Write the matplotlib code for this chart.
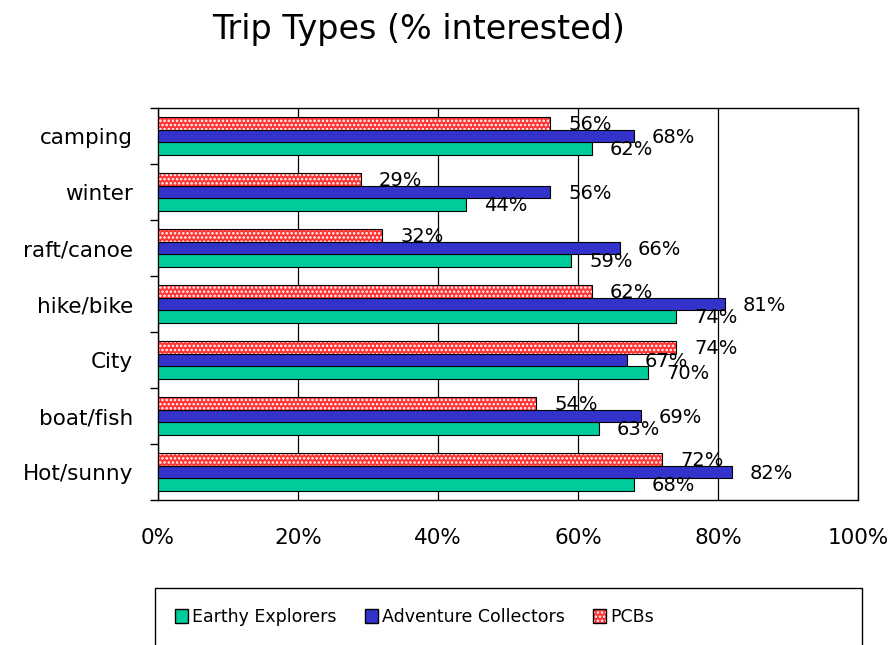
import matplotlib.pyplot as plt
import numpy as np
from matplotlib.patches import Patch, Rectangle
from matplotlib.legend_handler import HandlerTuple

categories = ["Hot/sunny", "boat/fish", "City", "hike/bike", "raft/canoe", "winter", "camping"]
earthy = [68, 63, 70, 74, 59, 44, 62]
adventure = [82, 69, 67, 81, 66, 56, 68]
pcbs = [72, 54, 74, 62, 32, 29, 56]

green = "#00CC99"
blue = "#3333CC"
red = "#FF3333"

plt.rcParams["font.family"] = "DejaVu Sans"
plt.rcParams["hatch.linewidth"] = 1.2

fig = plt.figure(figsize=(8.92, 6.45), dpi=100)
ax = fig.add_axes([158/892, 1-500/645, 700/892, 392/645])

y = np.arange(len(categories))
h = 0.223

ax.barh(y - h, earthy, h, color=green, edgecolor="black", linewidth=0.8, zorder=3)
ax.barh(y, adventure, h, color=blue, edgecolor="black", linewidth=0.8, zorder=3)
# red bars with a white dot pattern, outline drawn on top
ax.barh(y + h, pcbs, h, color=red, edgecolor="white", hatch="....", linewidth=0, zorder=3)
ax.barh(y + h, pcbs, h, color="none", edgecolor="black", linewidth=0.8, zorder=4)

for vals, off in ((earthy, -h), (adventure, 0), (pcbs, h)):
    for yi, v in zip(y, vals):
        ax.annotate(f"{v}%", (v, yi + off), xytext=(13, -1), textcoords="offset points",
                    ha="left", va="center", fontsize=14)

ax.set_xlim(0, 100)
ax.set_ylim(-0.5, len(categories) - 0.5)
ax.set_xticks(np.arange(0, 101, 20))
ax.set_xticklabels([f"{t}%" for t in range(0, 101, 20)], fontsize=15.5)
ax.tick_params(axis="x", length=0, pad=20)
ax.set_yticks(y)
ax.set_yticklabels(categories, fontsize=15.5)
ax.set_yticks(np.arange(-0.5, len(categories), 1), minor=True)
ax.tick_params(axis="y", which="major", length=0, pad=18)
ax.tick_params(axis="y", which="minor", length=6, width=1)
ax.xaxis.grid(True, color="black", linewidth=0.9, zorder=1)
for s in ax.spines.values():
    s.set_linewidth(1)

fig.text(0.469, 1-39/645, "Trip Types (% interested)", ha="center", va="baseline", fontsize=24)

h_e = Patch(facecolor=green, edgecolor="black")
h_a = Patch(facecolor=blue, edgecolor="black")
h_p = (Patch(facecolor=red, edgecolor="white", hatch="....", linewidth=0),
       Patch(facecolor="none", edgecolor="black"))
fig.legend([h_e, h_a, h_p], ["Earthy Explorers", "Adventure Collectors", "PCBs"],
           loc="upper left", bbox_to_anchor=(155/892, 1-588/645), ncol=3,
           fontsize=12.5, handlelength=0.75, handleheight=0.85, handletextpad=0.25,
           columnspacing=1.6, borderpad=1.15, borderaxespad=0, frameon=False,
           handler_map={tuple: HandlerTuple(ndivide=1)})
# legend box spanning the plot width, running off the bottom edge
fig.patches.append(Rectangle((155/892, -0.02), 707/892, 0.02 + 1 - 588/645,
                             transform=fig.transFigure, facecolor="none",
                             edgecolor="black", linewidth=1))

fig.savefig("out.png", dpi=100)
